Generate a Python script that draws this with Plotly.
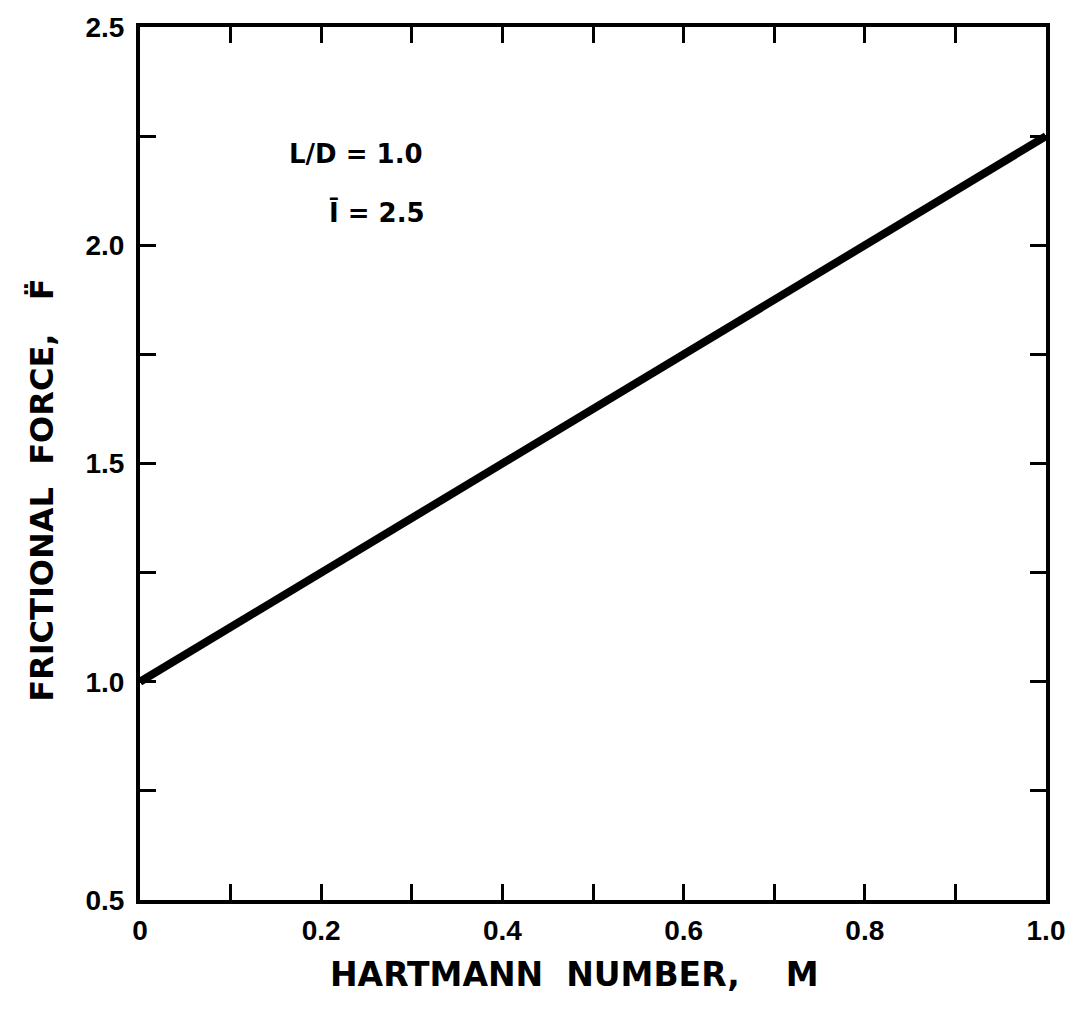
import plotly.graph_objects as go

# Frictional force vs. Hartmann number (L/D = 1.0, I-bar = 2.5)
hartmann_m = [0.0, 1.0]
friction_f = [1.0, 2.25]

x_tick_vals = [0.0, 0.1, 0.2, 0.3, 0.4, 0.5, 0.6, 0.7, 0.8, 0.9, 1.0]
x_tick_text = ["0", "", "0.2", "", "0.4", "", "0.6", "", "0.8", "", "1.0"]
y_tick_vals = [0.5, 0.75, 1.0, 1.25, 1.5, 1.75, 2.0, 2.25, 2.5]
y_tick_text = ["0.5", "", "1.0", "", "1.5", "", "2.0", "", "2.5"]

TITLE_FONT = "DejaVu Sans"
TICK_FONT = "Liberation Sans Narrow, Liberation Sans, Arial, sans-serif"

fig = go.Figure()
fig.add_trace(go.Scatter(
    x=hartmann_m, y=friction_f, mode="lines",
    line=dict(color="black", width=8),
    showlegend=False, hoverinfo="skip",
))

axis_common = dict(
    showline=True, linecolor="black", linewidth=4, mirror="ticks",
    ticks="inside", ticklen=16, tickwidth=3, tickcolor="black",
    showgrid=False, zeroline=False,
    tickfont=dict(family=TICK_FONT, size=28, color="black", weight="bold"),
)

fig.update_xaxes(range=[0, 1.0], tickmode="array", tickvals=x_tick_vals,
                 ticktext=x_tick_text, ticklabelstandoff=2, **axis_common)
fig.update_yaxes(range=[0.5, 2.5], tickmode="array", tickvals=y_tick_vals,
                 ticktext=y_tick_text, ticklabelstandoff=6, **axis_common)

# Axis titles
fig.add_annotation(
    x=0.48, y=-0.085, xref="paper", yref="paper",
    text="HARTMANN  NUMBER,    M", showarrow=False,
    xanchor="center", yanchor="middle",
    font=dict(family=TITLE_FONT, size=33, color="black", weight="bold"),
)
fig.add_annotation(
    x=-0.108, y=0.47, xref="paper", yref="paper",
    text="FRICTIONAL  FORCE,   F\u0308", showarrow=False, textangle=-90,
    xanchor="center", yanchor="middle",
    font=dict(family=TITLE_FONT, size=32, color="black", weight="bold"),
)

# Parameter labels
fig.add_annotation(x=0.162, y=2.21, xref="x", yref="y", text="L/D = 1.0",
                   showarrow=False, xanchor="left", yanchor="middle",
                   font=dict(family=TITLE_FONT, size=26, color="black", weight="bold"))
fig.add_annotation(x=0.206, y=2.075, xref="x", yref="y", text="\u012a = 2.5",
                   showarrow=False, xanchor="left", yanchor="middle",
                   font=dict(family=TITLE_FONT, size=26, color="black", weight="bold"))

fig.update_layout(
    width=1077, height=1016,
    margin=dict(l=140, r=31, t=18, b=116),
    paper_bgcolor="white", plot_bgcolor="white",
    font=dict(family=TITLE_FONT, color="black"),
)

fig.write_html("out.html")
